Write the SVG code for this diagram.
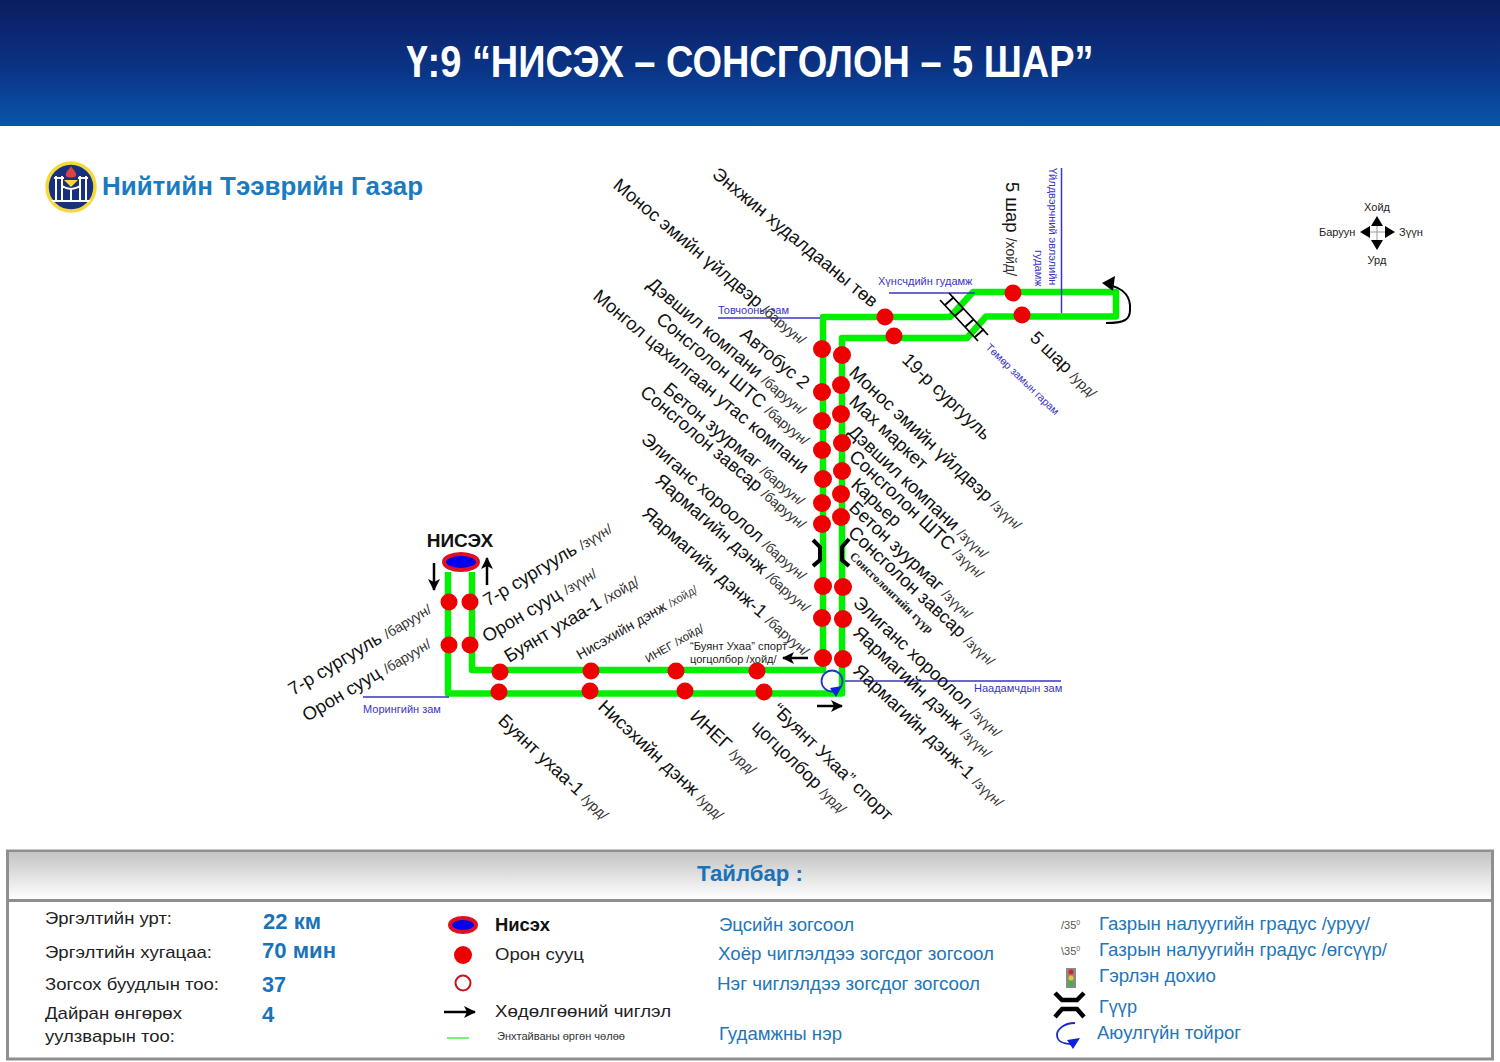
<svg xmlns="http://www.w3.org/2000/svg" width="1500" height="1062" viewBox="0 0 1500 1062">
<style>
text{font-family:"Liberation Sans",Arial,sans-serif}
.r{fill:#ee0000}
.s{font-size:18.400px;fill:#111}
.s tspan{font-size:14px;fill:#333}
.st{font-size:14.300px;fill:#222}
.st tspan{font-size:11.500px;fill:#444}
.b{font-size:11px;fill:#3a35c4}
.rd{fill:none;stroke:#3a35c4;stroke-width:1.5}
.g{fill:none;stroke:#00f000;stroke-width:6.500;stroke-linejoin:round}
.ar{stroke:#000;stroke-width:2.5;fill:none;marker-end:url(#ah)}
.k{font-size:17px;fill:#222}
.v{font-size:22px;font-weight:bold;fill:#1a72b8}
.l{font-size:17.5px;fill:#1f76b8}
.bg{fill:none;stroke:#000;stroke-width:4;stroke-linejoin:miter}
</style>
<defs>
<linearGradient id="hd" x1="0" y1="0" x2="0" y2="1"><stop offset="0" stop-color="#0c1c60"/><stop offset="0.55" stop-color="#0a3486"/><stop offset="1" stop-color="#0a55ab"/></linearGradient>
<linearGradient id="lg" x1="0" y1="0" x2="0" y2="1"><stop offset="0" stop-color="#c4c4c4"/><stop offset="1" stop-color="#ffffff"/></linearGradient>
<marker id="ah" markerUnits="userSpaceOnUse" markerWidth="14" markerHeight="14" refX="11" refY="7" orient="auto"><path d="M0 1L12 7L0 13L3 7Z" fill="#000"/></marker>
</defs>
<rect width="1500" height="1062" fill="#fff"/>
<g id="header"><rect width="1500" height="126" fill="url(#hd)"/>
<text x="750" y="77" text-anchor="middle" font-size="44" font-weight="bold" fill="#fff" textLength="687" lengthAdjust="spacingAndGlyphs">Ү:9 “НИСЭХ – СОНСГОЛОН – 5 ШАР”</text></g>
<g id="logo"><circle cx="71" cy="187" r="24" fill="#17307f" stroke="#f3d93a" stroke-width="3.5"/>
<path d="M66 176C65 172 69 170 71 166C73 170 77 172 76 176C74 178 68 178 66 176Z" fill="#d9453f"/>
<path d="M56 176V201M62 176V201M80 176V201M86 176V201M54 178H64M78 178H88M62 186C68 190 74 190 80 186M71 189V201M64 201H78M52 201H66M76 201H90" fill="none" stroke="#fff" stroke-width="2"/>
<path d="M64 180H78L71 187Z" fill="#f3d93a"/>
<text x="102" y="195" font-size="25" font-weight="bold" fill="#1a7bbf" textLength="321" lengthAdjust="spacingAndGlyphs">Нийтийн Тээврийн Газар</text></g>
<g id="compass"><path d="M1362 232H1392M1377 217V247" stroke="#999" stroke-width="1" fill="none"/>
<path d="M1377 216L1383 226H1371ZM1377 250L1383 240H1371ZM1360 232L1370 226V238ZM1395 232L1385 226V238Z" fill="#000"/>
<g font-size="11" fill="#222"><text x="1377" y="211" text-anchor="middle">Хойд</text><text x="1319" y="236">Баруун</text><text x="1399" y="236">Зүүн</text><text x="1377" y="264" text-anchor="middle">Урд</text></g></g>

<g id="connectors">
<path class="g" d="M448 572V693.500H842V338H967L986 316.500H1116V292H973L950 317H823V670H472V572"/>
<path class="rd" d="M718 318H820M889 293H975M1061.500 168V313M363 697H449M845 681H1061"/>
<path d="M940 300L978 341M949 293L988 335M945 305L954 297M955 316L964 308M965 327L974 319M975 337L984 329" fill="none" stroke="#000" stroke-width="1.800"/>
<path d="M1108 285C1125 288 1131 298 1130 310C1130 320 1124 323 1106 323" fill="none" stroke="#000" stroke-width="2"/>
<path d="M1102 283L1115 276L1113 291Z" fill="#000"/>
<path class="ar" d="M434 563V590"/><path class="ar" d="M487 585V558"/><path class="ar" d="M808 658H783"/><path class="ar" d="M817 706H842"/>
<circle cx="832" cy="681" r="10.500" fill="none" stroke="#1a3ac0" stroke-width="1.800"/><path d="M830 688L842 686L836 697Z" fill="#1020e0"/>
<path class="bg" d="M813 540L820 547V560L813 566M849 539L842 547V560L849 566"/>
</g>

<g id="road-labels">
<text class="b" x="718" y="314">Товчооны зам</text>
<text class="b" x="878" y="285">Хүнсчдийн гудамж</text>
<text class="b" style="font-size:10.600px" transform="translate(985 348) rotate(44)">Төмөр замын гарам</text>
<text class="b" transform="translate(1049 168) rotate(90)">Үйлдвэрчний эвлэлийн</text>
<text class="b" transform="translate(1035 250) rotate(90)">гудамж</text>
<text class="b" x="363" y="713">Морингийн зам</text>
<text class="b" x="974" y="692">Наадамчдын зам</text>
<text font-size="12" font-weight="bold" fill="#222" transform="translate(849 557) rotate(44)" style="font-family:'Liberation Serif',serif">Сонсголонгийн гүүр</text>
</g>

<g id="terminal"><ellipse cx="461" cy="562" rx="17" ry="8" fill="#0000ee" stroke="#e01020" stroke-width="4"/>
<text x="460" y="547" text-anchor="middle" font-size="19" font-weight="bold" fill="#111">НИСЭХ</text></g>

<g id="stops-west">
<g id="s1"><circle class="r" cx="822" cy="349" r="9"/><text class="s" transform="translate(612 187) rotate(40)">Монос эмийн үйлдвэр <tspan>/баруун/</tspan></text></g>
<g id="s2"><circle class="r" cx="822" cy="392" r="9"/><text class="s" transform="translate(739 336) rotate(40)">Автобус 2</text></g>
<g id="s3"><circle class="r" cx="822" cy="421" r="9"/><text class="s" transform="translate(646 286) rotate(40)">Дэвшил компани <tspan>/баруун/</tspan></text></g>
<g id="s4"><circle class="r" cx="822" cy="450" r="9"/><text class="s" transform="translate(655 321) rotate(40)">Сонсголон ШТС <tspan>/баруун/</tspan></text></g>
<g id="s5"><circle class="r" cx="823" cy="479" r="9"/><text class="s" transform="translate(592 298) rotate(40)">Монгол цахилгаан утас компани</text></g>
<g id="s6"><circle class="r" cx="822" cy="503" r="9"/><text class="s" transform="translate(662 391) rotate(40)">Бетон зуурмаг <tspan>/баруун/</tspan></text></g>
<g id="s7"><circle class="r" cx="822" cy="524" r="9"/><text class="s" transform="translate(639 394) rotate(40)">Сонсголон завсар <tspan>/баруун/</tspan></text></g>
<g id="s8"><circle class="r" cx="823" cy="586" r="9"/><text class="s" transform="translate(640 441) rotate(41)">Элиганс хороолол <tspan>/баруун/</tspan></text></g>
<g id="s9"><circle class="r" cx="822" cy="618" r="9"/><text class="s" transform="translate(654 482) rotate(41)">Яармагийн дэнж <tspan>/баруун/</tspan></text></g>
<g id="s10"><circle class="r" cx="823" cy="658" r="9"/><text class="s" transform="translate(641 515) rotate(41)">Яармагийн дэнж-1 <tspan>/баруун/</tspan></text></g>
</g>
<g id="stops-east">
<g id="e1"><circle class="r" cx="842" cy="355" r="9"/><text class="s" transform="translate(848 374) rotate(43)">Монос эмийн үйлдвэр <tspan>/зүүн/</tspan></text></g>
<g id="e2"><circle class="r" cx="841" cy="385" r="9"/><text class="s" transform="translate(848 403) rotate(43)">Мах маркет</text></g>
<g id="e3"><circle class="r" cx="841" cy="414" r="9"/><text class="s" transform="translate(847 433) rotate(43)">Дэвшил компани <tspan>/зүүн/</tspan></text></g>
<g id="e4"><circle class="r" cx="842" cy="443" r="9"/><text class="s" transform="translate(848 458) rotate(43)">Сонсголон ШТС <tspan>/зүүн/</tspan></text></g>
<g id="e5"><circle class="r" cx="842" cy="471" r="9"/><text class="s" transform="translate(850 486) rotate(43)">Карьер</text></g>
<g id="e6"><circle class="r" cx="841" cy="494" r="9"/><text class="s" transform="translate(848 509) rotate(43)">Бетон зуурмаг <tspan>/зүүн/</tspan></text></g>
<g id="e7"><circle class="r" cx="841" cy="517" r="9"/><text class="s" transform="translate(847 534) rotate(43)">Сонсголон завсар <tspan>/зүүн/</tspan></text></g>
<g id="e8"><circle class="r" cx="843" cy="587" r="9"/><text class="s" transform="translate(852 604) rotate(43)">Элиганс хороолол <tspan>/зүүн/</tspan></text></g>
<g id="e9"><circle class="r" cx="843" cy="619" r="9"/><text class="s" transform="translate(852 634) rotate(43)">Яармагийн дэнж <tspan>/зүүн/</tspan></text></g>
<g id="e10"><circle class="r" cx="843" cy="659" r="9"/><text class="s" transform="translate(852 672) rotate(43)">Яармагийн дэнж-1 <tspan>/зүүн/</tspan></text></g>
</g>
<g id="stops-top">
<g id="t1"><circle class="r" cx="885" cy="317" r="8.500"/><text class="s" transform="translate(711 176) rotate(39.500)">Энхжин худалдааны төв</text></g>
<g id="t2"><circle class="r" cx="894" cy="336" r="8.500"/><text class="s" transform="translate(901 361) rotate(44)">19-р сургууль</text></g>
<g id="t3"><circle class="r" cx="1013" cy="293" r="8.500"/><text class="s" transform="translate(1006 182) rotate(90)">5 шар <tspan>/хойд/</tspan></text></g>
<g id="t4"><circle class="r" cx="1022" cy="315" r="8.500"/><text class="s" transform="translate(1029 339) rotate(44)">5 шар <tspan>/урд/</tspan></text></g>
</g>
<g id="stops-south">
<g id="b1"><circle class="r" cx="499" cy="692" r="8.500"/><text class="s" transform="translate(497 722) rotate(43)">Буянт ухаа-1 <tspan>/урд/</tspan></text></g>
<g id="b2"><circle class="r" cx="590" cy="691" r="8.500"/><text class="s" transform="translate(597 708) rotate(43)">Нисэхийн дэнж <tspan>/урд/</tspan></text></g>
<g id="b3"><circle class="r" cx="685" cy="691" r="8.500"/><text class="s" transform="translate(689 718) rotate(43)">ИНЕГ <tspan>/урд/</tspan></text></g>
<g id="b4"><circle class="r" cx="764" cy="692" r="8.500"/><text class="s" transform="translate(771 711) rotate(44)">“Буянт Ухаа” спорт</text><text class="s" transform="translate(751 728) rotate(44)">цогцолбор <tspan>/урд/</tspan></text></g>
</g>
<g id="stops-north">
<g id="n1"><circle class="r" cx="500" cy="672" r="8.500"/><text class="s" transform="translate(509 663) rotate(-31)">Буянт ухаа-1 <tspan>/хойд/</tspan></text></g>
<g id="n2"><circle class="r" cx="591" cy="671" r="8.500"/><text class="st" transform="translate(580 660) rotate(-30)">Нисэхийн дэнж <tspan>/хойд/</tspan></text></g>
<g id="n3"><circle class="r" cx="676" cy="671" r="8.500"/><text style="font-size:11.500px;fill:#222" transform="translate(648 663) rotate(-30)">ИНЕГ /хойд/</text></g>
<g id="n4"><circle class="r" cx="757" cy="671" r="8.500"/><text font-size="11.200" fill="#222" x="690" y="650">“Буянт Ухаа” спорт</text><text font-size="11" fill="#222" x="690" y="663">цогцолбор /хойд/</text></g>
</g>
<g id="stops-nisekh">
<g id="w1"><circle class="r" cx="449" cy="602" r="8.500"/><text class="s" transform="translate(293 696) rotate(-31)">7-р сургууль <tspan>/баруун/</tspan></text></g>
<g id="w2"><circle class="r" cx="449" cy="645" r="8.500"/><text class="s" transform="translate(307 722) rotate(-31)">Орон сууц <tspan>/баруун/</tspan></text></g>
<g id="w3"><circle class="r" cx="470" cy="602" r="8.500"/><text class="s" transform="translate(488 607) rotate(-31)">7-р сургууль <tspan>/зүүн/</tspan></text></g>
<g id="w4"><circle class="r" cx="470" cy="645" r="8.500"/><text class="s" transform="translate(487 643) rotate(-31)">Орон сууц <tspan>/зүүн/</tspan></text></g>
</g>

<g id="legend">
<rect x="7.500" y="851" width="1485" height="208" fill="#fff" stroke="#8f8f8f" stroke-width="3"/>
<rect x="9" y="852.500" width="1482" height="47" fill="url(#lg)"/>
<path d="M7 900.500H1493" stroke="#8f8f8f" stroke-width="3"/>
<text x="697" y="881" font-size="22" font-weight="bold" fill="#1a72b8" textLength="106" lengthAdjust="spacingAndGlyphs">Тайлбар :</text>
<g class="k"><text class="k" x="45" y="924" textLength="127" lengthAdjust="spacingAndGlyphs">Эргэлтийн урт:</text>
<text class="k" x="45" y="958" textLength="167" lengthAdjust="spacingAndGlyphs">Эргэлтийн хугацаа:</text>
<text class="k" x="45" y="990" textLength="174" lengthAdjust="spacingAndGlyphs">Зогсох буудлын тоо:</text>
<text class="k" x="45" y="1019" textLength="137" lengthAdjust="spacingAndGlyphs">Дайран өнгөрөх</text>
<text class="k" x="45" y="1042" textLength="130" lengthAdjust="spacingAndGlyphs">уулзварын тоо:</text></g>
<text class="v" x="263" y="929" textLength="58" lengthAdjust="spacingAndGlyphs">22 км</text>
<text class="v" x="262" y="958" textLength="74" lengthAdjust="spacingAndGlyphs">70 мин</text>
<text class="v" x="262" y="992" textLength="24" lengthAdjust="spacingAndGlyphs">37</text>
<text class="v" x="262" y="1022">4</text>
<ellipse cx="463" cy="925" rx="13" ry="7" fill="#0000ee" stroke="#e01020" stroke-width="4"/>
<circle cx="463" cy="955" r="9" fill="#ee0000"/>
<circle cx="463" cy="983" r="7.500" fill="#fff" stroke="#c8141e" stroke-width="2"/>
<path class="ar" d="M444 1012H475"/>
<path d="M447 1038H469" stroke="#7cf07c" stroke-width="2"/>
<text x="495" y="931" font-size="18" font-weight="bold" fill="#111" textLength="55" lengthAdjust="spacingAndGlyphs">Нисэх</text>
<text class="k" x="495" y="960" textLength="89" lengthAdjust="spacingAndGlyphs">Орон сууц</text>
<text class="k" x="495" y="1017" textLength="176" lengthAdjust="spacingAndGlyphs">Хөдөлгөөний чиглэл</text>
<text x="497" y="1040" font-size="10" fill="#333" textLength="128" lengthAdjust="spacingAndGlyphs">Энхтайваны өргөн чөлөө</text>
<text class="l" x="719" y="931" textLength="135" lengthAdjust="spacingAndGlyphs">Эцсийн зогсоол</text>
<text class="l" x="718" y="960" textLength="276" lengthAdjust="spacingAndGlyphs">Хоёр чиглэлдээ зогсдог зогсоол</text>
<text class="l" x="717" y="990" textLength="263" lengthAdjust="spacingAndGlyphs">Нэг чиглэлдээ зогсдог зогсоол</text>
<text class="l" x="719" y="1040" textLength="123" lengthAdjust="spacingAndGlyphs">Гудамжны нэр</text>
<text x="1061" y="929" font-size="11" fill="#555">/35<tspan font-size="7" dy="-4">0</tspan></text>
<text x="1061" y="955" font-size="11" fill="#555">\35<tspan font-size="7" dy="-4">0</tspan></text>
<text class="l" x="1099" y="930" textLength="271" lengthAdjust="spacingAndGlyphs">Газрын налуугийн градус /уруу/</text>
<text class="l" x="1099" y="956" textLength="288" lengthAdjust="spacingAndGlyphs">Газрын налуугийн градус /өгсүүр/</text>
<text class="l" x="1099" y="982" textLength="117" lengthAdjust="spacingAndGlyphs">Гэрлэн дохио</text>
<text class="l" x="1099" y="1013" textLength="38" lengthAdjust="spacingAndGlyphs">Гүүр</text>
<text class="l" x="1097" y="1039" textLength="144" lengthAdjust="spacingAndGlyphs">Аюулгүйн тойрог</text>
<rect x="1066" y="968" width="10" height="20" fill="#8a8a8a"/><circle cx="1071" cy="972" r="2.500" fill="#d22"/><circle cx="1071" cy="978" r="2.500" fill="#dc3"/><circle cx="1071" cy="984" r="2.500" fill="#3b3"/>
<path d="M1055 993L1062 1000H1077L1084 993M1055 1017L1062 1009H1077L1084 1017" fill="none" stroke="#000" stroke-width="4.500"/>
<path d="M1075 1023C1063 1023 1057 1030 1057 1035C1057 1041 1063 1044 1071 1044" fill="none" stroke="#1a2ac0" stroke-width="1.800"/><path d="M1067 1040L1080 1038L1073 1049Z" fill="#1020e0"/>
</g>
</svg>
